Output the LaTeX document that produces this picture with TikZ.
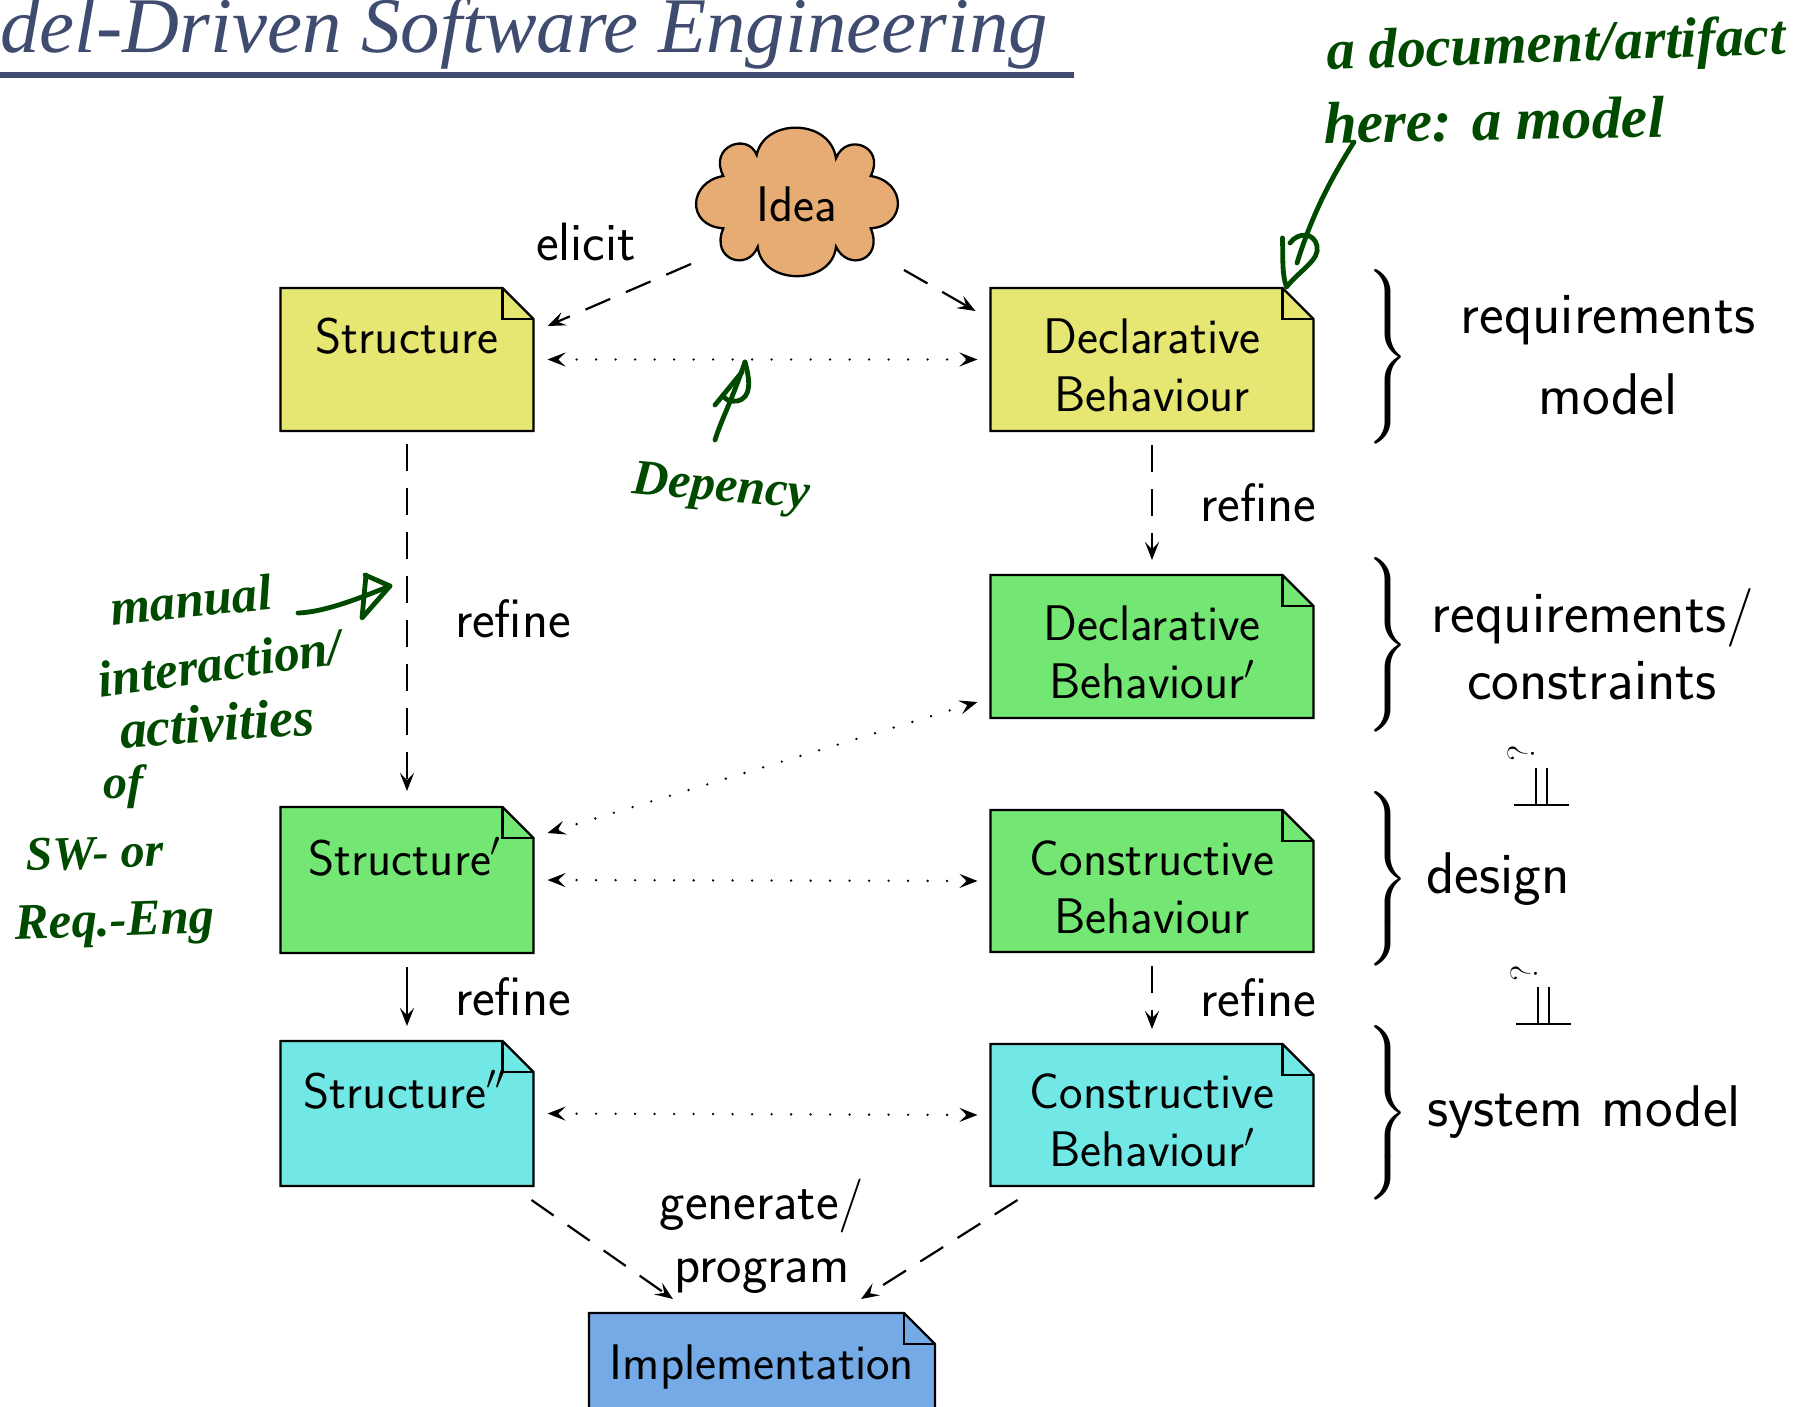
\documentclass[tikz,border=0pt]{standalone}
\usepackage{fontspec}
\usetikzlibrary{calc,fit,arrows.meta}
\newfontfamily\titlefont{Liberation Serif}
\newfontfamily\handfont{Liberation Serif}
\definecolor{titleblue}{HTML}{3F4C70}
\definecolor{reqyellow}{HTML}{E6E672}
\definecolor{desgreen}{HTML}{74E674}
\definecolor{syscyan}{HTML}{72E8E6}
\definecolor{implblue}{HTML}{74AAE6}
\definecolor{ideaorange}{HTML}{E6AC74}
\definecolor{inkgreen}{HTML}{004A00}
\tikzset{
  boxfit/.style={inner sep=0pt,outer sep=0pt,draw=none},
  noteline/.style={draw=black,line width=1.15pt,line join=miter},
  lab/.style={anchor=base,inner sep=0pt,font=\sffamily\fontsize{#1}{#1}\selectfont},
  tiphead/.tip={Stealth[length=9pt,width=7pt,inset=3.6pt]},
  solidarrow/.style={-tiphead,line width=1.1pt},
  dasharrow/.style={-tiphead,line width=1.1pt,dash pattern=on 13.5pt off 8.5pt},
  dotarrow/.style={tiphead-tiphead,line width=1.3pt,line cap=round,dash pattern=on 0pt off 9.75pt},
  ink/.style={draw=inkgreen,line width=2.4pt,line cap=round,line join=round},
  hand/.style={text=inkgreen,inner sep=0pt,anchor=center},
  bracenode/.style={inner sep=0pt,scale=2.42,transform shape},
  indep/.style={draw=black,line width=.8pt},
}
\newcommand\notebox[6]{%
  \coordinate (#1-a) at (#2,#3);
  \coordinate (#1-b) at (#4,#5);
  \node[boxfit,fit=(#1-a)(#1-b)] (#1) {};
  \draw[noteline,fill=#6] (#1.north west) -- ([xshift=-15.5pt]#1.north east) -- ([yshift=-15.5pt]#1.north east) -- (#1.south east) -- (#1.south west) -- cycle;
  \draw[noteline] ([xshift=-15.5pt]#1.north east) |- ([yshift=-15.5pt]#1.north east);
}
\newcommand\lab[5][25]{\node[lab=#1] (#2) at (#3,#4) {#5};}
\newcommand\hw[6]{\node[hand,rotate=#5,font=\handfont\bfseries\itshape\fontsize{#4}{#4}\selectfont] (#1) at (#2,#3) {#6};}
\newcommand\bracket[3]{\node[bracenode] (#1) at (#2,#3) {$\left.\vrule height 15pt depth 15pt width 0pt\right\}$};}
\begin{document}
\begin{tikzpicture}[x=.5pt,y=-.5pt]
\useasboundingbox (0,0) rectangle (1814,1407);
\clip (0,0) rectangle (1814,1407);

% title
\node[anchor=base west,inner sep=0pt,text=titleblue,font=\titlefont\itshape\fontsize{39.4}{39.4}\selectfont] (title) at (0,53) {del-Driven Software Engineering};
\coordinate (ruleL) at (0,75);
\coordinate (ruleR) at (1074,75);
\draw[titleblue,line width=2.6pt] (ruleL) -- (ruleR);

% cloud
\draw[noteline,fill=ideaorange]
  (723.3,176) .. controls (688,182) and (686,226) .. (723.3,228.3)
  .. controls (710,260) and (748,272) .. (757.7,246.7)
  .. controls (762,286) and (832,286) .. (836,246.7)
  .. controls (848,272) and (884,260) .. (870.7,228.3)
  .. controls (907,226) and (907,182) .. (870.7,176)
  .. controls (886,146) and (846,132) .. (836,158.3)
  .. controls (830,118) and (764,118) .. (756.7,155)
  .. controls (748,132) and (708,146) .. (723.3,176) -- cycle;
\coordinate (idea-a) at (695,128);
\coordinate (idea-b) at (898,276);
\node[boxfit,fit=(idea-a)(idea-b)] (idea) {};
\lab{ideat}{797}{221}{Idea}

% boxes
\notebox{sa}{280.5}{288}{533.5}{431}{reqyellow}
\notebox{da}{990.5}{288}{1313.5}{431}{reqyellow}
\notebox{db}{990.5}{575}{1313.5}{718}{desgreen}
\notebox{sb}{280.5}{807}{533.5}{953}{desgreen}
\notebox{cb}{990.5}{810}{1313.5}{952}{desgreen}
\notebox{sc}{280.5}{1041}{533.5}{1186}{syscyan}
\notebox{cc}{990.5}{1044}{1313.5}{1186}{syscyan}
\notebox{im}{589}{1313}{935}{1460}{implblue}

% box labels
\lab{sal}{407}{353}{Structure}
\lab{dal1}{1152}{353}{Declarative}
\lab{dal2}{1152}{411}{Behaviour}
\lab{dbl1}{1152}{640}{Declarative}
\lab{dbl2}{1152}{698}{Behaviour$'$}
\lab{sbl}{405}{875}{Structure$'$}
\lab{cbl1}{1152}{875}{Constructive}
\lab{cbl2}{1152}{933}{Behaviour}
\lab{scl}{405}{1108}{Structure$''$}
\lab{ccl1}{1152}{1108}{Constructive}
\lab{ccl2}{1152}{1166}{Behaviour$'$}
\lab{iml}{762}{1379}{Implementation}

% connectors
\draw[dasharrow] ($(idea.south west)+(-4,-12)$) -- ($(sa.north east)+(14,38)$);
\draw[dasharrow] ($(idea.south east)+(6,-6)$) -- ($(da.north west)+(-15,23)$);
\draw[dotarrow,shorten <=7pt,shorten >=6.5pt] (sa.east) -- (da.west);
\draw[dasharrow,shorten <=6.5pt,shorten >=8pt] (sa.south) -- (sb.north);
\draw[dasharrow,shorten <=7pt,shorten >=7.5pt] (da.south) -- (db.north);
\draw[dotarrow] ($(db.south west)+(-13,-16)$) -- ($(sb.north east)+(14,26)$);
\draw[dotarrow,shorten <=7pt,shorten >=6.5pt] (sb.east) -- (cb.west);
\draw[solidarrow,shorten <=7pt,shorten >=7.5pt] (sb.south) -- (sc.north);
\draw[dasharrow,shorten <=7pt,shorten >=7.5pt] (cb.south) -- (cc.north);
\draw[dotarrow,shorten <=7pt,shorten >=6.5pt] (sc.east) -- (cc.west);
\draw[dasharrow] ($(sc.south east)+(-2,14)$) -- ($(im.north west)+(84,-14)$);
\draw[dasharrow] ($(cc.south west)+(27,14)$) -- ($(im.north east)+(-74,-14)$);

% connector labels
\lab[27]{l1}{586}{261}{elicit}
\lab[27]{l2}{513}{637}{refine}
\lab[27]{l3}{1258}{521}{refine}
\lab[27]{l4}{513}{1015}{refine}
\lab[27]{l5}{1258}{1016}{refine}
\lab[27]{l6}{762}{1219}{generate/}
\lab[27]{l7}{762}{1282}{program}

% right column
\bracket{b1}{1385}{357}
\bracket{b2}{1385}{645}
\bracket{b3}{1385}{879}
\bracket{b4}{1385}{1113}
\lab[29.4]{r1}{1608}{333}{requirements}
\lab[29.4]{r2}{1608}{414}{model}
\lab[29.4]{r3}{1593}{632}{requirements/}
\lab[29.4]{r4}{1592}{699}{constraints}
\lab[29.4]{r5}{1498}{893}{design}
\lab[29.4]{r6}{1584}{1126}{system model}

% independence marks
\node[inner sep=0pt,rotate=90,font=\rmfamily\fontsize{19}{19}\selectfont] (q1) at (1521,753) {?};
\coordinate (p1a) at (1514,805); \coordinate (p1b) at (1569,805);
\coordinate (p1c) at (1536,768); \coordinate (p1d) at (1547,768);
\draw[indep] (p1a) -- (p1b);
\draw[indep] (p1c) -- (p1c |- p1a);
\draw[indep] (p1d) -- (p1d |- p1a);
\node[inner sep=0pt,rotate=90,font=\rmfamily\fontsize{19}{19}\selectfont] (q2) at (1524,973) {?};
\coordinate (p2a) at (1516,1024); \coordinate (p2b) at (1571,1024);
\coordinate (p2c) at (1538,987); \coordinate (p2d) at (1549,987);
\draw[indep] (p2a) -- (p2b);
\draw[indep] (p2c) -- (p2c |- p2a);
\draw[indep] (p2d) -- (p2d |- p2a);

% handwriting
\hw{h1}{1556}{48}{28.4}{2}{a document/artifact}
\hw{h2}{1494}{120}{29.6}{1}{here: a model}
\hw{h3}{721}{490}{25}{-5}{Depency}
\hw{h4}{191}{600}{25.5}{6}{manual}
\hw{h5}{220}{663}{25.7}{8}{interaction/}
\hw{h6}{217}{723}{27}{4}{activities}
\hw{h7}{123}{787}{24}{0}{of}
\hw{h8}{95}{853}{24}{2}{SW- or}
\hw{h9}{115}{925}{25.5}{2}{Req.-Eng}

% annotation arrows
\coordinate (a1s) at (1354,142);
\coordinate (a1e) at (1297,263);
\draw[ink] (a1s) .. controls (1330,180) and (1312,215) .. (a1e);
\draw[ink] ($(da.north east)+(-31,-50)$) .. controls (1283,260) and (1282,275) .. ($(da.north east)+(-27,-1)$)
  .. controls (1300,270) and (1320,260) .. (1317,246)
  .. controls (1314,232) and (1298,232) .. (1290,243);
\coordinate (a2s) at (715,440);
\coordinate (a2e) at (745,362);
\draw[ink] (a2s) .. controls (722,418) and (730,405) .. (a2e);
\draw[ink] (715,405) -- (742,372);
\draw[ink] (a2e) .. controls (750,380) and (752,398) .. (737,401) .. controls (730,402) and (725,400) .. (723,395);
\coordinate (a3s) at (298,613);
\coordinate (a3e) at (390,586);
\draw[ink] (a3s) .. controls (325,612) and (360,598) .. (a3e);
\draw[ink] (365,575) -- (a3e) -- (362,618) -- (366,575);
\end{tikzpicture}
\end{document}
